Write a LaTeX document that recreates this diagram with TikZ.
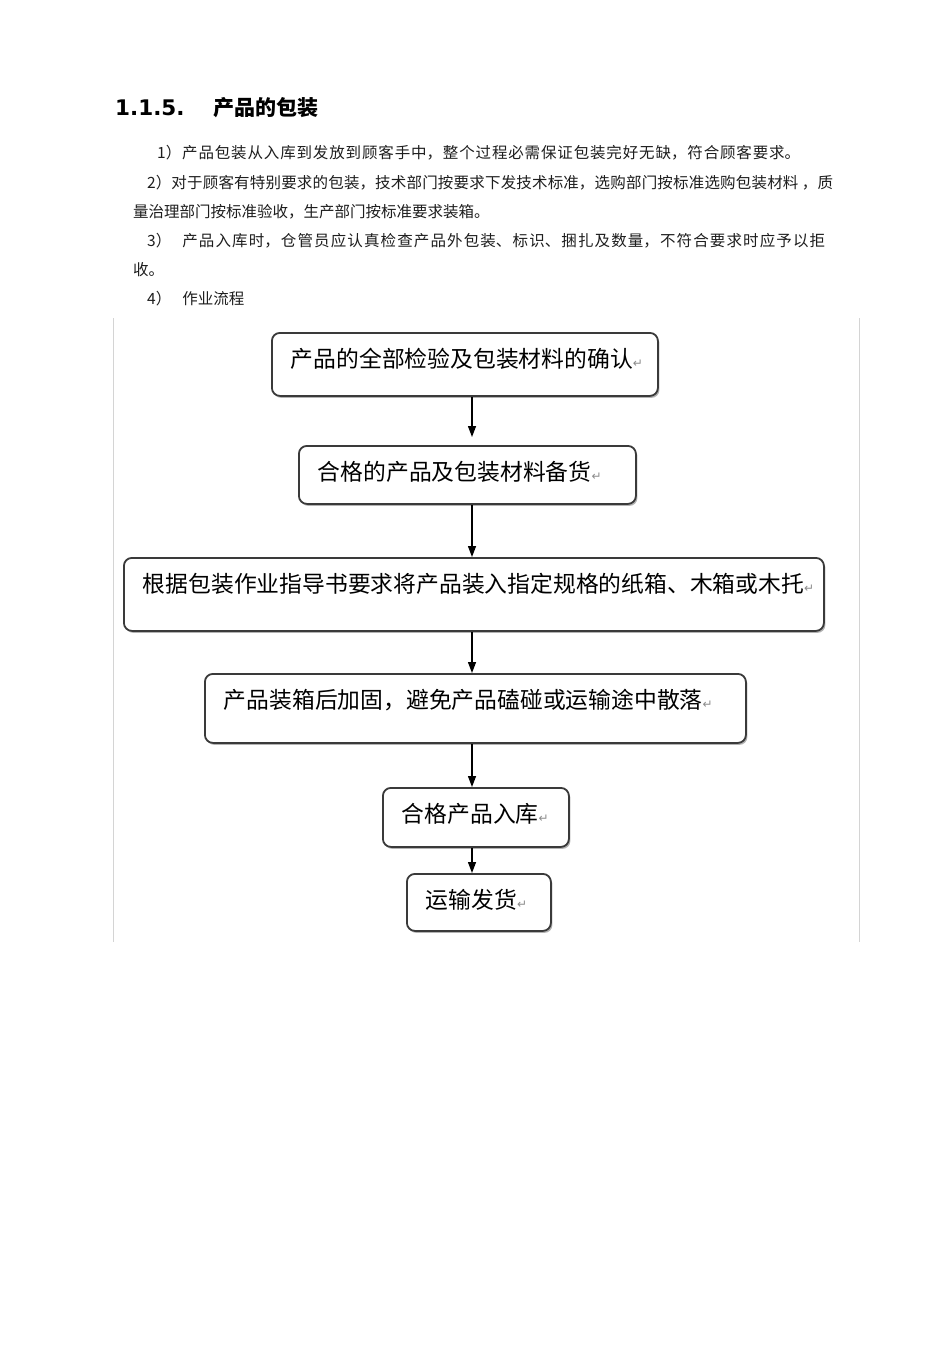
\documentclass[tikz,border=0pt]{standalone}
\usepackage{fontspec}
\setmainfont{Noto Sans CJK SC}
\newfontfamily\headfont{DejaVu Sans}
\newfontfamily\symfont{DejaVu Sans}
\usetikzlibrary{arrows.meta, calc, shadows}
\XeTeXlinebreaklocale "zh"
\XeTeXlinebreakskip=0pt plus 4pt
\definecolor{boxGray}{HTML}{3A3A3A}
\definecolor{frameGray}{HTML}{D4D4D4}
\definecolor{paraBlack}{HTML}{1E1E1E}
\newcommand{\paratext}{\fontsize{15.5}{18}\selectfont}
\newcommand{\boxfont}{\fontsize{22.8}{26}\selectfont}
\newcommand{\retmark}{{\symfont\fontsize{12}{12}\selectfont\color{black!45}↵}}
\newcommand{\fitline}[1]{\parfillskip=0pt\relax #1\par}
\newcommand{\flowtext}[2]{\makebox[#1pt][l]{#2\retmark}}
\tikzstyle{headline} =[anchor=west, inner sep=0pt, text=black]
\tikzstyle{paraline} =[anchor=base west, inner sep=0pt, font=\paratext, text=paraBlack]
\tikzstyle{flowbox} =[anchor=north west, draw=boxGray, line width=1.8pt, rounded corners=8pt, fill=white, drop shadow={shadow xshift=1.5pt, shadow yshift=-2pt, fill=black!50, opacity=.6}, inner xsep=19pt, inner ysep=0pt, text height=35pt, font=\boxfont]
\tikzstyle{flowarrow} =[-{Triangle[length=11pt, width=8pt]}, line width=1.3pt, black]
\tikzstyle{frameline} =[draw=frameGray, line width=1pt]

\begin{document}
\begin{tikzpicture}[x=1pt, y=-1pt]
\useasboundingbox[fill=white] (0,0) rectangle (950,1345);

\node (secNum) [headline, font=\headfont\bfseries\fontsize{21.5}{22}\selectfont] at (115,108) {1.1.5.};
\node (secTitle) [headline, font=\bfseries\fontsize{21}{22}\selectfont] at (213,108) {产品的包装};

\node (paraOne) [paraline, text width=643pt, align=justify] at (157,158) {\fitline{1）产品包装从入库到发放到顾客手中，整个过程必需保证包装完好无缺，符合顾客要求。}};
\node (paraTwo) [paraline, text width=686pt, align=justify] at (147,188) {\fitline{2）对于顾客有特别要求的包装，技术部门按要求下发技术标准，选购部门按标准选购包装材料 ，质}};
\node (paraTwoEnd) [paraline] at (133,217) {量治理部门按标准验收，生产部门按标准要求装箱。};
\node (paraThree) [paraline, text width=678pt, align=justify] at (147,246) {\fitline{3）\hspace{11pt}产品入库时，仓管员应认真检查产品外包装、标识、捆扎及数量，不符合要求时应予以拒}};
\node (paraThreeEnd) [paraline] at (133,275) {收。};
\node (paraFour) [paraline] at (147,304) {4）\hspace{11pt}作业流程};

%picture frame
\draw[frameline] (113,318) -- (113,942);
\draw[frameline] (859,318) -- (859,942);

\node (check) [flowbox, text depth=28pt] at (271,332) {\flowtext{348}{产品的全部检验及包装材料的确认}};
\node (stock) [flowbox, text depth=23pt] at (298,445) {\flowtext{299}{合格的产品及包装材料备货}};
\node (pack) [flowbox, text depth=38pt] at (123,557) {\flowtext{662}{根据包装作业指导书要求将产品装入指定规格的纸箱、木箱或木托}};
\node (secure) [flowbox, text depth=34pt] at (204,673) {\flowtext{503}{产品装箱后加固，避免产品磕碰或运输途中散落}};
\node (store) [flowbox, text depth=24pt] at (382,787) {\flowtext{148}{合格产品入库}};
\node (ship) [flowbox, text depth=22pt] at (406,873) {\flowtext{106}{运输发货}};

%arrows
\coordinate (spine) at (472,0);
\draw[flowarrow, shorten >=8pt] (check.south -| spine) -- (stock.north -| spine);
\draw[flowarrow] (stock.south -| spine) -- (pack.north -| spine);
\draw[flowarrow] (pack.south -| spine) -- (secure.north -| spine);
\draw[flowarrow] (secure.south -| spine) -- (store.north -| spine);
\draw[flowarrow] (store.south -| spine) -- (ship.north -| spine);

\end{tikzpicture}
\end{document}
